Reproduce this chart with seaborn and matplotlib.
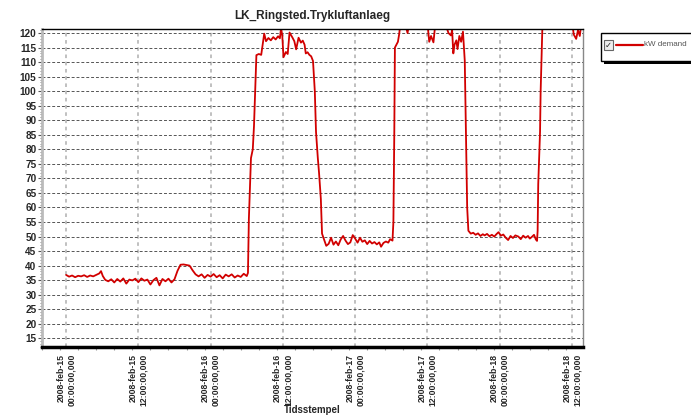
import pandas as pd
import numpy as np
import matplotlib
matplotlib.use("Agg")
import matplotlib.pyplot as plt
import matplotlib.dates as mdates
from matplotlib.ticker import FuncFormatter, MultipleLocator
from matplotlib.patches import Rectangle
from matplotlib.lines import Line2D
import seaborn as sns

#%% data, hours after 2008-02-15 00:00 and kW demand
hours = [0.0, 0.5, 1.0, 1.5, 2.0, 2.5, 3.0, 3.5, 4.0, 4.5, 5.0, 5.5, 5.8, 6.1, 6.5,
         7.0, 7.5, 8.0, 8.5, 9.0, 9.5, 10.0, 10.5, 11.0, 11.5, 12.0, 12.5, 13.0, 13.5,
         14.0, 14.5, 15.0, 15.5, 16.0, 16.5, 17.0, 17.5, 18.0, 18.5, 19.0, 19.5, 20.0,
         20.5, 21.0, 21.5, 22.0, 22.5, 23.0, 23.5, 24.0, 24.5, 25.0, 25.5, 26.0, 26.5,
         27.0, 27.5, 28.0, 28.5, 29.0, 29.5, 30.0, 30.2, 30.35, 30.7, 31.0, 31.2, 31.4,
         31.6, 32.0, 32.4, 32.7, 32.9, 33.2, 33.6, 34.0, 34.4, 34.8, 35.2, 35.5, 35.7,
         35.9, 36.1, 36.5, 36.8, 37.1, 37.6, 37.9, 38.2, 38.6, 39.0, 39.3, 39.6, 39.8,
         40.1, 40.4, 40.7, 41.0, 41.3, 41.5, 41.8, 42.0, 42.3, 42.5, 42.8, 43.2, 43.6,
         44.0, 44.4, 44.8, 45.2, 45.6, 46.0, 46.4, 46.8, 47.2, 47.6, 48.0, 48.4, 48.8,
         49.2, 49.6, 50.0, 50.4, 50.8, 51.2, 51.6, 52.0, 52.3, 52.7, 53.1, 53.5, 53.8,
         54.2, 54.35, 54.5, 54.6, 55.1, 55.3, 55.5, 56.2, 56.7, 57.0, 58.0, 59.0, 60.0,
         60.3, 60.6, 61.0, 61.3, 62.0, 63.0, 63.5, 63.9, 64.1, 64.3, 64.5, 64.8, 65.0,
         65.3, 65.6, 65.9, 66.2, 66.4, 66.6, 66.8, 67.2, 67.6, 68.0, 68.4, 68.8, 69.2,
         69.5, 69.9, 70.3, 70.7, 71.1, 71.5, 71.8, 72.2, 72.6, 73.0, 73.4, 73.8, 74.2,
         74.6, 75.1, 75.5, 75.9, 76.3, 76.7, 77.0, 77.3, 77.7, 78.0, 78.2, 78.3, 78.4,
         78.7, 78.8, 79.1, 80.0, 82.0, 84.0, 84.3, 84.7, 85.0, 85.3, 85.6, 86.5]
kw = [36.8, 36.2, 36.6, 36.0, 36.5, 36.3, 36.7, 36.1, 36.6, 36.3, 36.8, 37.3, 38.1, 36.4, 35.1,
      34.6, 35.3, 34.2, 35.4, 34.5, 35.6, 33.8, 35.2, 34.9, 35.5, 34.3, 35.6, 34.8, 35.2,
      33.5, 35.0, 35.8, 33.2, 35.4, 34.6, 35.5, 34.2, 35.3, 38.2, 40.3, 40.4, 40.2,
      40.0, 38.4, 37.0, 36.3, 37.0, 35.8, 36.8, 36.2, 37.1, 36.0, 36.7, 35.6, 36.9,
      36.3, 37.0, 35.9, 36.6, 36.1, 37.2, 36.4, 37.5, 56.0, 77.0, 80.0, 88.0, 100.0,
      112.4, 112.8, 112.5, 117.0, 119.8, 117.2, 118.3, 117.5, 118.6, 117.8, 118.9, 118.2, 121.8,
      119.0, 111.7, 113.5, 112.8, 120.2, 118.4, 117.2, 114.4, 118.4, 116.7, 117.4, 116.0, 113.0,
      113.4, 112.5, 112.0, 110.4, 100.0, 86.0, 77.0, 72.0, 63.0, 51.0, 49.2, 46.8, 47.5,
      49.6, 47.2, 48.3, 47.0, 49.0, 50.2, 48.6, 47.4, 48.0, 50.5, 49.3, 47.9, 49.6,
      48.2, 48.7, 47.4, 48.5, 47.6, 48.1, 47.3, 48.0, 46.5, 47.8, 48.3, 47.9, 49.1,
      48.6, 55.0, 86.0, 115.0, 117.0, 119.5, 123.0, 124.0, 120.0, 124.0, 125.0, 124.0, 123.5,
      117.0, 119.0, 116.8, 123.0, 124.0, 123.0, 120.0, 119.2, 121.0, 113.0, 116.0, 117.5, 114.5,
      119.0, 117.0, 120.5, 110.5, 86.0, 60.0, 52.0, 51.0, 51.3, 50.6, 51.1, 50.2, 50.8,
      50.4, 50.9, 50.1, 50.6, 50.0, 50.9, 51.5, 50.3, 50.7, 49.6, 48.8, 50.2, 49.5,
      50.4, 50.0, 49.1, 50.3, 49.6, 50.2, 49.3, 49.8, 50.6, 49.0, 48.5, 52.0, 68.0,
      86.0, 100.0, 123.0, 125.0, 125.0, 124.0, 119.5, 118.0, 121.0, 119.0, 124.0, 125.0]
yticks = list(range(15, 121, 5))
title = "LK_Ringsted.Trykluftanlaeg"
series_name = "kW demand"

#%%
df = pd.DataFrame({"time": pd.Timestamp("2008-02-15") + pd.to_timedelta(hours, unit="h"),
                   "kw": kw})

sns.set_style("white")
plt.rcParams["font.family"] = ["Liberation Sans", "DejaVu Sans"]

W, H = 691, 416
fig = plt.figure(figsize=(W / 100, H / 100), dpi=100)
ax = fig.add_axes([42 / W, 1 - 347 / H, (583 - 42) / W, (347 - 29) / H])

sns.lineplot(data=df, x="time", y="kw", ax=ax, color="#d10000", linewidth=1.3)

ax.set_xlim(pd.Timestamp("2008-02-14 20:00"), pd.Timestamp("2008-02-18 13:50"))
ax.set_ylim(12, 121.4)

# axis ticks
ax.xaxis.set_major_locator(mdates.HourLocator(byhour=[0, 12]))
ax.xaxis.set_minor_locator(mdates.HourLocator(interval=3))

def fmt(x, pos):
    d = mdates.num2date(x)
    return d.strftime("%Y-") + d.strftime("%b").lower() + d.strftime("-%d\n%H:%M:%S") + ",000"

ax.xaxis.set_major_formatter(FuncFormatter(fmt))
ax.set_yticks(yticks)
ax.yaxis.set_minor_locator(MultipleLocator(1))
for lab in ax.get_xticklabels():
    lab.set_rotation(90)
    lab.set_fontsize(6.2)
    lab.set_fontweight("bold")
    lab.set_multialignment("right")
for lab in ax.get_yticklabels():
    lab.set_fontsize(7.2)
    lab.set_fontweight("bold")
ax.tick_params(axis="x", which="major", length=3, width=0.8, color="#999999", pad=2)
ax.tick_params(axis="x", which="minor", length=2, width=0.8, color="#999999", bottom=True)
ax.tick_params(axis="y", which="major", length=3, width=0.8, color="#555555", pad=1, left=True)
ax.tick_params(axis="y", which="minor", length=1.5, width=0.6, color="#777777", left=True)

# grid
ax.grid(False)
ax.yaxis.grid(True, which="major", color="#555555", linestyle=(0, (3, 2)), linewidth=0.7)
ax.xaxis.grid(True, which="major", color="#bbbbbb", linestyle=(0, (2, 2)), linewidth=1.3)

# spines
ax.spines["top"].set_color("black")
ax.spines["top"].set_linewidth(1.0)
ax.spines["bottom"].set_color("black")
ax.spines["bottom"].set_linewidth(2.5)
ax.spines["left"].set_color("#bbbbbb")
ax.spines["left"].set_linewidth(2.0)
ax.spines["right"].set_color("#888888")
ax.spines["right"].set_linestyle((0, (1, 1)))
ax.spines["right"].set_linewidth(1.0)

ax.set_title(title, fontsize=8.5, fontweight="bold", pad=7)
ax.set_ylabel("")
ax.set_xlabel("Tidsstempel", fontsize=7, fontweight="bold")
ax.xaxis.set_label_coords(0.5, -0.182)

# legend box (checkbox style, runs off the figure edge)
px = lambda x, y: (x / W, 1 - y / H)
fig.patches.append(Rectangle(px(604, 64), 100 / W, 29 / H, transform=fig.transFigure,
                             facecolor="black", edgecolor="none", zorder=1))
fig.patches.append(Rectangle(px(601, 61), 100 / W, 28 / H, transform=fig.transFigure,
                             facecolor="white", edgecolor="black", linewidth=1, zorder=2))
fig.patches.append(Rectangle(px(604, 50), 9 / W, 10 / H, transform=fig.transFigure,
                             facecolor="#eeeeee", edgecolor="#666666", linewidth=0.8, zorder=3))
fig.text(*px(608.5, 45), "\u2713", fontsize=6, fontweight="bold", ha="center", va="center",
         family="DejaVu Sans", zorder=4)
fig.lines.append(Line2D([616 / W, 643 / W], [1 - 45 / H, 1 - 45 / H], transform=fig.transFigure,
                        color="#d10000", linewidth=1.6, zorder=4))
fig.text(*px(644, 45), series_name, fontsize=5.8, color="#555555", ha="left", va="center", zorder=4)

fig.savefig("out.png", dpi=100)
